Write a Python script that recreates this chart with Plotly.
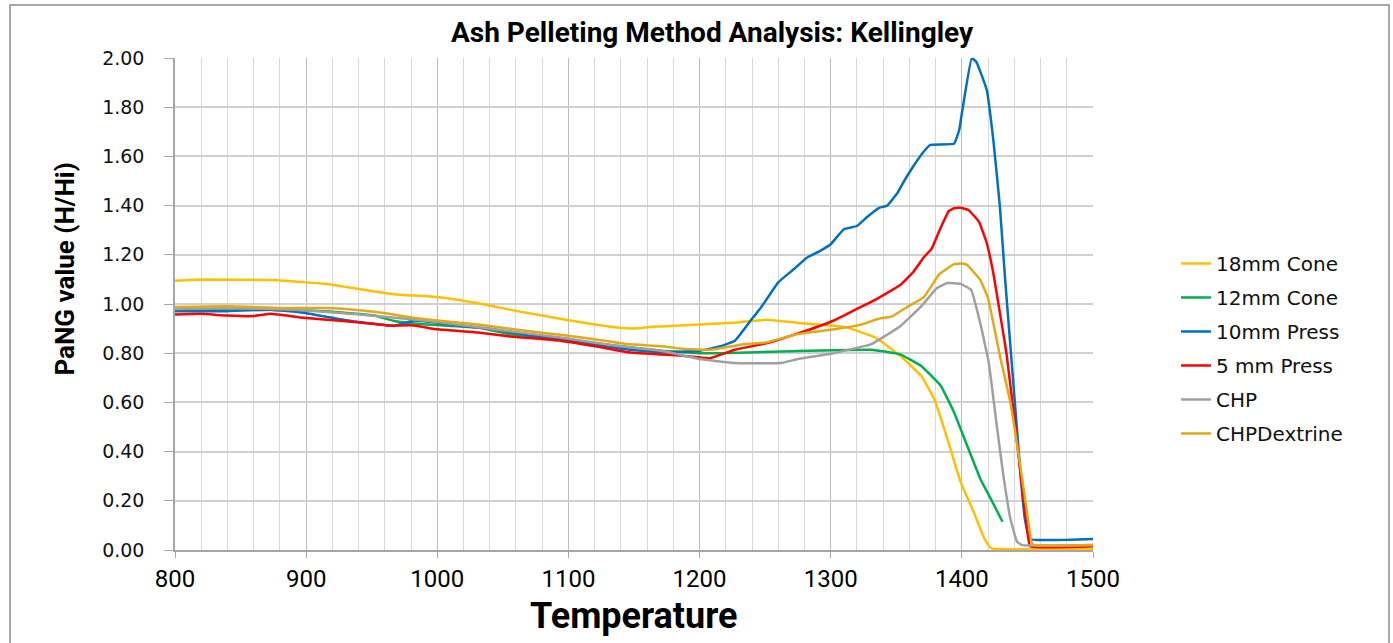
import plotly.graph_objects as go

# ---------------- data ----------------
t_18 = [800, 819, 878, 898, 916, 941, 967, 1000, 1030, 1061, 1099, 1120, 1145, 1153, 1163, 1171,
        1200, 1229, 1251, 1275, 1302, 1312, 1334, 1353, 1369, 1379, 1389, 1399, 1409, 1417, 1421, 1424, 1500]
v_18 = [1.095, 1.10, 1.097, 1.089, 1.081, 1.06, 1.04, 1.028, 1.004, 0.971, 0.935, 0.917, 0.901, 0.901, 0.908, 0.909,
        0.917, 0.925, 0.936, 0.923, 0.912, 0.905, 0.864, 0.789, 0.708, 0.613, 0.452, 0.277, 0.155, 0.048, 0.014, 0.005, 0.005]

t_12 = [800, 840, 880, 916, 952, 967, 992, 1031, 1056, 1094, 1132, 1171, 1200, 1216, 1270, 1331,
        1353, 1369, 1384, 1394, 1404, 1414, 1422, 1431]
v_12 = [0.977, 0.977, 0.976, 0.971, 0.953, 0.931, 0.917, 0.904, 0.877, 0.857, 0.833, 0.81, 0.80, 0.80, 0.808, 0.814,
        0.795, 0.748, 0.667, 0.56, 0.425, 0.29, 0.209, 0.115]

t_10 = [800, 840, 873, 898, 929, 967, 982, 1000, 1031, 1043, 1069, 1107, 1145, 1171, 1200, 1216, 1227, 1240, 1247,
        1260, 1272, 1282, 1292, 1300, 1310, 1320, 1328, 1337, 1343, 1351, 1356, 1363, 1371, 1376, 1394, 1398, 1400,
        1407.5, 1411, 1419, 1424, 1429, 1433, 1437, 1441, 1445, 1448, 1452, 1500]
v_10 = [0.971, 0.971, 0.977, 0.964, 0.935, 0.911, 0.933, 0.924, 0.904, 0.897, 0.873, 0.848, 0.815, 0.804, 0.81, 0.828,
        0.851, 0.94, 0.987, 1.088, 1.142, 1.189, 1.216, 1.243, 1.304, 1.317, 1.355, 1.391, 1.40, 1.452, 1.50, 1.56,
        1.62, 1.647, 1.651, 1.708, 1.775, 1.999, 1.985, 1.87, 1.667, 1.396, 1.10, 0.83, 0.56, 0.29, 0.128, 0.045, 0.045]

t_5 = [800, 819, 840, 860, 873, 898, 929, 962, 982, 1000, 1031, 1056, 1094, 1125, 1145, 1171, 1187, 1208, 1227,
       1248, 1262, 1280, 1302, 1320, 1335, 1353, 1363, 1371, 1377, 1383, 1390, 1394, 1399, 1405, 1413, 1419, 1424,
       1429, 1434, 1441, 1446, 1450, 1452, 1500]
v_5 = [0.957, 0.96, 0.953, 0.951, 0.96, 0.944, 0.931, 0.913, 0.913, 0.897, 0.884, 0.868, 0.851, 0.824, 0.804, 0.795,
       0.79, 0.78, 0.814, 0.837, 0.858, 0.889, 0.932, 0.98, 1.02, 1.077, 1.13, 1.19, 1.225, 1.30, 1.378, 1.389, 1.391,
       1.382, 1.335, 1.247, 1.125, 0.964, 0.80, 0.49, 0.25, 0.075, 0.015, 0.015]

t_chp = [800, 840, 891, 916, 941, 982, 1005, 1043, 1094, 1132, 1171, 1200, 1227, 1262, 1275, 1302, 1331, 1353,
         1369, 1381, 1389, 1399, 1407, 1414, 1420.5, 1427, 1432, 1437, 1442, 1446, 1500]
v_chp = [0.98, 0.983, 0.977, 0.967, 0.957, 0.937, 0.924, 0.897, 0.864, 0.833, 0.81, 0.776, 0.76, 0.76, 0.776, 0.80,
         0.837, 0.91, 0.99, 1.065, 1.085, 1.082, 1.058, 0.923, 0.762, 0.49, 0.29, 0.128, 0.034, 0.02, 0.02]

t_dex = [800, 840, 880, 916, 941, 962, 982, 1000, 1031, 1069, 1094, 1120, 1145, 1171, 1189, 1208, 1235, 1251, 1275,
         1304, 1323, 1336, 1347, 1358, 1371, 1383, 1394, 1400, 1404, 1414, 1420, 1429, 1437, 1444.5, 1449.6, 1453,
         1455, 1500]
v_dex = [0.988, 0.991, 0.984, 0.984, 0.975, 0.961, 0.944, 0.933, 0.917, 0.89, 0.875, 0.857, 0.837, 0.828, 0.817,
         0.814, 0.837, 0.844, 0.878, 0.898, 0.916, 0.939, 0.95, 0.987, 1.028, 1.122, 1.162, 1.165, 1.159, 1.098, 1.023,
         0.79, 0.60, 0.344, 0.155, 0.034, 0.02, 0.02]

series_names = ["18mm Cone", "12mm Cone", "10mm Press", "5 mm Press", "CHP", "CHPDextrine"]
series_t = [t_18, t_12, t_10, t_5, t_chp, t_dex]
series_v = [v_18, v_12, v_10, v_5, v_chp, v_dex]
series_colors = ["#FFC000", "#00B050", "#0070C0", "#FF0000", "#A0A0A0", "#E3A816"]

y_ticks = [0.0, 0.2, 0.4, 0.6, 0.8, 1.0, 1.2, 1.4, 1.6, 1.8, 2.0]
x_ticks = [800, 900, 1000, 1100, 1200, 1300, 1400, 1500]

# ---------------- figure ----------------
fig = go.Figure()
for name, t, v, c in zip(series_names, series_t, series_v, series_colors):
    fig.add_trace(go.Scatter(x=t, y=v, mode="lines", name=name, legendgroup=name,
                             line=dict(color=c, width=2.5, shape="spline", smoothing=0.3)))

fig.update_layout(
    width=1393, height=643,
    margin=dict(l=175, r=300, t=58, b=93),
    paper_bgcolor="white", plot_bgcolor="white",
    showlegend=True,
    legend=dict(x=1.0904, y=0.622, xanchor="left", yanchor="top",
                font=dict(family="DejaVu Sans", size=20, color="#111"),
                tracegroupgap=5, bgcolor="rgba(0,0,0,0)"),
    annotations=[
        dict(text="<b>Ash Pelleting Method Analysis: Kellingley</b>", xref="paper", yref="paper",
             x=0.585, y=1.0, yshift=26, xanchor="center", yanchor="middle", showarrow=False,
             font=dict(family="Roboto", size=28, color="#000")),
        dict(text="<b>PaNG value (H/Hi)</b>", xref="paper", yref="paper", textangle=-90,
             x=0, xshift=-110, y=0.57, xanchor="center", yanchor="middle", showarrow=False,
             font=dict(family="Roboto", size=26, color="#000")),
        dict(text="<b>Temperature</b>", xref="paper", yref="paper",
             x=0.5, y=0, yshift=-66, xanchor="center", yanchor="middle", showarrow=False,
             font=dict(family="Roboto", size=36, color="#000")),
    ],
    shapes=[dict(type="rect", xref="paper", yref="paper",
                 x0=-165/918, x1=1214/918, y0=-95/492, y1=545/492,
                 line=dict(color="#8c8c8c", width=1.5), fillcolor="rgba(0,0,0,0)", layer="below")],
)

fig.update_xaxes(range=[800, 1500], tickvals=x_ticks, ticktext=[str(v) for v in x_ticks],
                 showgrid=True, gridcolor="#bcbcbc", gridwidth=1,
                 minor=dict(dtick=20, tick0=800, showgrid=True, gridcolor="#d9d9d9", gridwidth=1),
                 showline=True, linecolor="#a6a6a6", linewidth=1.5,
                 ticks="outside", ticklen=6, tickcolor="#a6a6a6",
                 tickfont=dict(family="Roboto", size=24, color="#000"), zeroline=False)
fig.update_yaxes(range=[0, 2.0], tickvals=y_ticks, ticktext=[f"{v:.2f}" for v in y_ticks],
                 showgrid=True, gridcolor="#d0d0d0", gridwidth=1.5,
                 showline=True, linecolor="#a6a6a6", linewidth=1.5,
                 ticks="outside", ticklen=9, tickcolor="#a6a6a6", ticklabelstandoff=16,
                 tickfont=dict(family="DejaVu Sans", size=19, color="#111"), zeroline=False)

fig.write_html("out.html")
